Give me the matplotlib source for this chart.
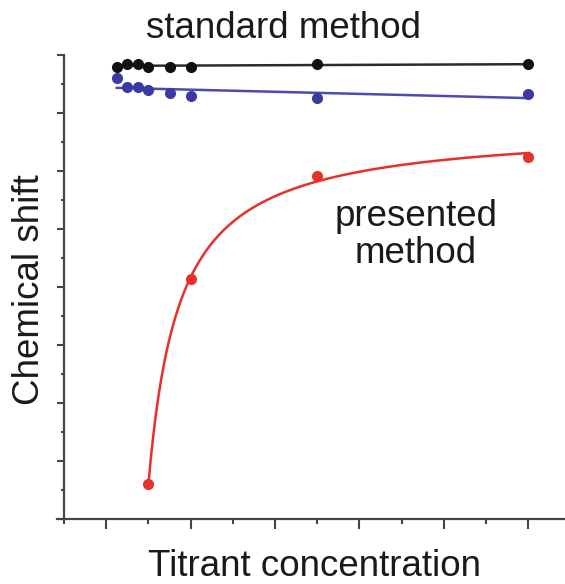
import numpy as np
import matplotlib
matplotlib.use("Agg")
import matplotlib.pyplot as plt
from matplotlib.ticker import FixedLocator, NullFormatter

# ---- data ----
x_std = [1.25, 1.5, 1.75, 2.0, 2.5, 3.0, 6.0, 11.0]
y_black = [15.60, 15.69, 15.69, 15.58, 15.60, 15.60, 15.68, 15.68]
y_blue = [15.20, 14.91, 14.91, 14.79, 14.68, 14.59, 14.51, 14.66]
x_red = [2.0, 3.0, 6.0, 11.0]
y_red = [1.20, 8.27, 11.83, 12.49]

x_major = [1, 3, 5, 7, 9, 11]
x_minor = [0, 2, 4, 6, 8, 10]
y_major = [0, 2, 4, 6, 8, 10, 12, 14, 16]
y_minor = [1, 3, 5, 7, 9, 11, 13, 15]

label_std = "standard method"
label_pres = "presented\nmethod"
xlabel = "Titrant concentration"
ylabel = "Chemical shift"

plt.rcParams['font.family'] = ['Liberation Sans', 'DejaVu Sans']

W, H = 565, 584
px_unit = 42.2
left_px = 64 - 0.17 * px_unit
fig = plt.figure(figsize=(W / 100, H / 100), dpi=100)
ax = fig.add_axes([left_px / W, (H - 519) / H, (565 - left_px) / W, (519 - 55) / H])

xs = np.array(x_std)
xr = np.array(x_red)
yr = np.array(y_red)

# linear fits for the standard method
for yv, lc, mc in [(y_black, '#2b2b2b', '#111111'), (y_blue, '#4a4ab0', '#3a3aa4')]:
    p = np.polyfit(xs, np.array(yv), 1)
    xx = np.linspace(xs.min(), xs.max(), 50)
    ax.plot(xx, np.polyval(p, xx), color=lc, lw=1.8, zorder=2)
    ax.plot(xs, yv, 'o', color=mc, ms=7, zorder=3)

# hyperbolic fit y = a - b/(x - c) for presented method
best = None
for c in np.linspace(0.0, 1.98, 400):
    A = np.column_stack([np.ones_like(xr), -1.0 / (xr - c)])
    coef, res, *_ = np.linalg.lstsq(A, yr, rcond=None)
    err = np.sum((A @ coef - yr) ** 2)
    if best is None or err < best[0]:
        best = (err, c, coef)
_, c, (a, b) = best
xx = np.linspace(xr.min(), xr.max(), 300)
ax.plot(xx, a - b / (xx - c), color='#e8302a', lw=1.8, zorder=2)
ax.plot(xr, yr, 'o', color='#e8302a', ms=7, zorder=3)

ax.set_xlim(-0.17, (565 - 64) / px_unit)
ax.set_ylim(0, 16)
ax.spines['left'].set_position(('data', 0))
ax.spines['top'].set_visible(False)
ax.spines['right'].set_visible(False)
for s in ('left', 'bottom'):
    ax.spines[s].set_color('#4a4440')
    ax.spines[s].set_linewidth(1.6)

ax.xaxis.set_major_locator(FixedLocator(x_major))
ax.xaxis.set_minor_locator(FixedLocator(x_minor))
ax.yaxis.set_major_locator(FixedLocator(y_major))
ax.yaxis.set_minor_locator(FixedLocator(y_minor))
ax.xaxis.set_major_formatter(NullFormatter())
ax.yaxis.set_major_formatter(NullFormatter())
ax.tick_params(axis='x', which='major', direction='out', length=7, width=1.5, color='#4a4440')
ax.tick_params(axis='x', which='minor', direction='out', length=3.5, width=1.5, color='#4a4440')
ax.tick_params(axis='y', which='major', direction='out', length=5, width=1.5, color='#4a4440')
ax.tick_params(axis='y', which='minor', direction='out', length=2.5, width=1.5, color='#4a4440')

fig.text(284 / W, 1 - 29 / H, label_std, ha='center', va='center', fontsize=26.5, color='#1a1a1a')
fig.text(416 / W, 1 - 235 / H, label_pres, ha='center', va='center', fontsize=26.5,
         color='#1a1a1a', linespacing=1.05)
fig.text(314 / W, 1 - 566 / H, xlabel, ha='center', va='center', fontsize=26.5, color='#1a1a1a')
fig.text(30 / W, 1 - 290 / H, ylabel, ha='center', va='center', rotation=90,
         fontsize=26.5, color='#1a1a1a')

fig.savefig('out.png', dpi=100)
